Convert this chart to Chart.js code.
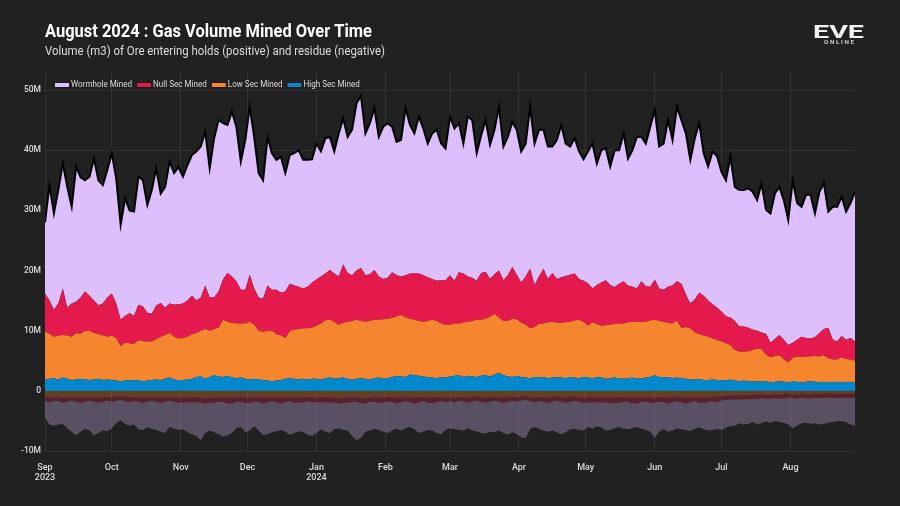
<!DOCTYPE html>
<html>
<head>
<meta charset="utf-8">
<title>Gas Volume Mined Over Time</title>
<script src="https://cdn.jsdelivr.net/npm/chart.js@4.4.1/dist/chart.umd.min.js"></script>
<style>
  html, body { margin: 0; padding: 0; background: #212121; }
  .chart-wrap { width: 900px; height: 506px; position: relative; }
</style>
</head>
<body>
<div class="chart-wrap"><canvas id="myChart"></canvas></div>
<script>
// DATA - millions of m3, one reading every 2 days starting 1 Sep 2023

var wormholeMined = [
  11.8, 19.2, 16.0, 18.9, 20.8, 20.1, 16.1, 22.5, 20.0, 18.5, 19.8, 23.6, 20.8, 19.7, 21.2, 23.3, 20.8, 15.8, 19.5, 17.1, 17.3, 21.3, 21.0, 17.9, 20.6, 22.8, 18.2, 20.1, 23.6, 21.9, 22.8,
  21.1, 22.5, 23.4, 24.8, 25.1, 25.6, 21.5, 26.5, 28.5, 26.0, 24.6, 27.4, 25.7, 21.3, 24.9, 27.9, 25.2, 20.7, 19.7, 24.7, 22.7, 21.6, 22.6, 19.7, 21.4, 22.0, 22.7, 21.4, 21.1, 20.5,
  22.6, 20.8, 22.5, 22.1, 20.3, 23.8, 24.3, 22.6, 24.2, 27.8, 28.6, 23.6, 25.1, 26.9, 23.2, 25.3, 25.7, 24.2, 22.2, 22.7, 27.8, 24.7, 23.3, 26.1, 24.4, 22.2, 24.2, 25.1, 22.7, 21.9,
  26.4, 25.3, 24.8, 21.6, 26.6, 26.2, 21.2, 22.9, 25.2, 22.3, 24.0, 27.2, 22.2, 23.0, 24.1, 24.1, 21.8, 22.1, 26.9, 23.5, 24.4, 23.1, 22.0, 21.0, 23.1, 25.3, 22.0, 21.3, 22.5, 21.2, 20.2,
  21.9, 24.1, 20.2, 22.0, 21.9, 19.7, 22.8, 22.2, 24.6, 21.1, 22.7, 25.2, 24.0, 23.7, 26.6, 28.2, 23.6, 24.3, 27.7, 24.2, 29.0, 27.2, 26.8, 23.9, 26.8, 28.2, 23.7, 22.3, 25.4, 25.2,
  23.2, 22.6, 26.7, 22.3, 22.7, 22.7, 23.2, 22.9, 21.7, 24.8, 20.6, 21.5, 24.2, 24.6, 23.2, 20.8, 27.0, 22.7, 21.6, 23.8, 23.9, 20.6, 23.5, 24.2, 19.3, 22.1, 22.4, 23.2, 21.3, 22.4, 24.9
];

var nullSecMined = [
  6.4, 5.5, 4.5, 5.3, 7.7, 4.6, 5.5, 5.2, 6.0, 6.5, 5.8, 5.4, 4.8, 5.3, 6.5, 7.0, 5.7, 4.4, 4.5, 5.0, 4.7, 5.9, 5.7, 4.8, 4.6, 5.6, 5.6, 4.5, 4.9, 5.3, 5.7,
  5.7, 6.0, 6.4, 5.4, 5.5, 7.2, 5.5, 5.2, 6.0, 6.7, 8.1, 7.7, 7.0, 5.6, 5.6, 7.8, 6.0, 5.5, 5.5, 7.5, 6.8, 7.4, 7.1, 7.7, 7.9, 7.3, 7.0, 6.6, 6.9, 7.5,
  7.7, 7.8, 7.8, 8.2, 8.1, 8.0, 9.7, 8.1, 7.6, 8.2, 8.8, 7.7, 7.8, 8.3, 7.2, 6.7, 6.8, 7.6, 6.8, 6.4, 7.0, 7.5, 7.7, 7.9, 7.7, 7.3, 6.8, 6.7, 7.2, 7.4,
  8.2, 7.1, 8.5, 8.1, 7.5, 7.2, 6.5, 7.8, 7.8, 6.3, 6.6, 7.8, 6.8, 7.6, 8.6, 7.4, 6.7, 8.0, 9.9, 7.0, 7.9, 9.1, 7.2, 8.1, 7.3, 7.6, 7.7, 7.8, 7.8, 6.8, 6.8,
  7.1, 5.6, 6.5, 7.2, 7.5, 6.6, 6.1, 6.6, 7.0, 6.1, 5.8, 5.5, 6.8, 5.9, 5.6, 6.7, 5.4, 5.3, 6.0, 6.3, 6.5, 7.4, 5.4, 4.1, 5.5, 6.9, 6.6, 6.0, 5.7, 5.3,
  5.0, 4.5, 4.6, 4.8, 4.2, 4.2, 3.9, 3.4, 3.0, 2.8, 3.5, 2.4, 2.8, 3.4, 3.3, 2.9, 2.5, 2.8, 3.4, 3.1, 3.0, 3.1, 3.9, 4.4, 5.1, 3.3, 3.0, 3.5, 3.2, 3.6, 3.2
];

var lowSecMined = [
  8.0, 7.5, 6.9, 7.3, 7.1, 7.2, 7.2, 7.7, 7.5, 8.1, 8.2, 7.7, 7.4, 7.4, 7.1, 7.4, 7.1, 5.8, 6.3, 6.1, 6.1, 6.6, 6.7, 6.5, 6.4, 6.7, 7.2, 7.3, 7.4, 7.1, 6.9,
  7.0, 7.1, 7.4, 7.3, 7.6, 8.3, 7.7, 7.7, 8.1, 9.5, 9.0, 9.1, 9.1, 9.0, 9.2, 9.6, 9.0, 8.1, 8.0, 8.3, 8.4, 7.7, 7.4, 6.8, 7.8, 8.2, 8.4, 8.4, 8.5, 8.5,
  8.8, 9.3, 9.6, 9.7, 9.4, 8.9, 9.1, 9.5, 9.7, 9.8, 9.5, 9.5, 9.7, 9.7, 9.6, 9.9, 9.9, 9.8, 9.9, 10.2, 9.9, 9.3, 9.2, 9.1, 9.1, 9.3, 9.6, 9.5, 8.9, 8.8,
  8.6, 8.7, 8.6, 9.1, 9.0, 9.2, 9.5, 9.3, 9.4, 9.9, 10.1, 9.2, 9.0, 9.2, 9.7, 9.4, 9.0, 8.8, 8.3, 8.3, 8.9, 8.9, 9.3, 9.3, 9.0, 9.1, 9.3, 9.2, 9.5, 9.7, 9.2,
  8.6, 9.3, 8.8, 8.6, 8.9, 8.9, 8.9, 9.1, 9.2, 9.3, 9.3, 9.5, 9.3, 9.3, 9.4, 9.2, 9.3, 9.3, 9.0, 9.1, 9.5, 8.3, 8.6, 8.5, 7.8, 7.4, 7.4, 7.2, 6.8, 6.7,
  6.4, 6.2, 5.7, 5.1, 4.9, 4.8, 5.0, 5.3, 5.4, 5.4, 4.4, 4.2, 4.3, 4.3, 3.7, 3.3, 3.9, 4.2, 4.2, 4.2, 4.1, 4.3, 4.3, 4.4, 4.0, 3.7, 3.8, 4.1, 3.9, 3.7, 3.6
];

var highSecMined = [
  1.8, 2.0, 2.1, 1.9, 2.2, 2.0, 1.8, 1.9, 2.0, 1.9, 1.8, 1.9, 2.0, 1.8, 1.9, 1.8, 1.7, 1.6, 1.7, 1.8, 1.7, 1.8, 1.6, 1.7, 1.8, 1.9, 1.8, 2.0, 2.2, 1.9, 1.8,
  1.8, 1.9, 2.0, 2.3, 2.4, 2.0, 2.3, 2.6, 2.4, 2.3, 2.5, 2.2, 2.1, 2.2, 2.0, 1.9, 2.0, 1.9, 1.8, 1.7, 1.6, 1.7, 1.8, 2.0, 2.1, 2.0, 1.9, 2.0, 1.9, 2.0,
  2.0, 1.9, 2.1, 2.2, 2.0, 2.1, 2.2, 2.0, 1.9, 2.0, 2.1, 2.0, 1.9, 2.1, 2.2, 2.0, 2.1, 2.3, 2.5, 2.4, 2.3, 2.7, 2.6, 2.5, 2.4, 2.3, 2.2, 2.1, 2.3, 2.2,
  2.4, 2.5, 2.6, 2.3, 2.5, 2.4, 2.3, 2.5, 2.6, 2.4, 2.7, 3.0, 2.6, 2.4, 2.3, 2.5, 2.3, 2.2, 2.1, 2.3, 2.2, 2.3, 2.1, 2.2, 2.3, 2.2, 2.1, 2.3, 2.2, 2.1, 2.3,
  2.2, 2.1, 2.3, 2.2, 2.0, 2.1, 2.2, 2.1, 2.0, 2.1, 2.2, 2.0, 2.1, 2.2, 2.3, 2.6, 2.3, 2.2, 2.3, 2.1, 2.2, 2.1, 2.0, 1.9, 1.9, 2.0, 1.8, 1.8, 1.9, 1.8,
  1.8, 1.7, 1.9, 1.7, 1.6, 1.7, 1.6, 1.5, 1.6, 1.5, 1.6, 1.4, 1.5, 1.6, 1.5, 1.4, 1.6, 1.5, 1.4, 1.5, 1.6, 1.5, 1.4, 1.5, 1.4, 1.5, 1.4, 1.5, 1.4, 1.5, 1.4
];

var lowSecResidue = [
  -1.0, -1.1, -1.1, -1.0, -1.2, -1.1, -1.0, -1.1, -1.2, -1.1, -1.0, -1.1, -1.2, -1.1, -1.0, -1.1, -1.0, -0.9, -1.0, -1.1, -1.0, -1.1, -1.2, -1.1, -1.0, -1.1, -1.2, -1.1, -1.0, -1.1, -1.2,
  -1.1, -1.2, -1.1, -1.0, -1.2, -1.3, -1.1, -1.2, -1.1, -1.0, -1.2, -1.3, -1.1, -1.0, -1.1, -1.2, -1.1, -1.0, -1.2, -1.1, -1.0, -1.1, -1.2, -1.1, -1.0, -1.2, -1.1, -1.1, -1.0, -1.1,
  -1.2, -1.1, -1.0, -1.2, -1.1, -1.3, -1.2, -1.1, -1.0, -1.1, -1.2, -1.3, -1.1, -1.0, -1.2, -1.1, -1.0, -1.1, -1.2, -1.0, -1.1, -1.2, -1.1, -1.0, -1.1, -1.2, -1.1, -1.0, -1.1, -1.2,
  -1.1, -1.2, -1.0, -1.1, -1.2, -1.0, -1.0, -1.1, -1.3, -1.0, -1.0, -1.1, -1.2, -1.0, -1.0, -1.1, -0.9, -1.0, -1.1, -1.2, -1.0, -1.1, -1.2, -1.0, -1.0, -1.1, -1.2, -1.0, -1.0, -1.1, -1.2,
  -1.0, -1.1, -1.2, -1.0, -1.1, -1.2, -1.1, -1.0, -1.1, -1.0, -1.2, -1.2, -1.0, -1.1, -1.1, -1.2, -1.0, -1.1, -1.2, -1.1, -1.0, -1.0, -1.2, -1.1, -1.0, -1.1, -1.2, -1.1, -1.0, -1.0,
  -0.9, -0.9, -0.8, -0.8, -0.8, -0.7, -0.8, -0.7, -0.7, -0.6, -0.7, -0.6, -0.6, -0.7, -0.6, -0.5, -0.6, -0.6, -0.5, -0.6, -0.6, -0.5, -0.6, -0.5, -0.5, -0.6, -0.5, -0.5, -0.6, -0.5, -0.5
];

var nullSecResidue = [
  -0.7, -0.8, -0.6, -0.7, -0.8, -0.7, -0.6, -0.7, -0.8, -0.7, -0.6, -0.7, -0.8, -0.7, -0.6, -0.7, -0.6, -0.6, -0.7, -0.8, -0.7, -0.7, -0.8, -0.7, -0.6, -0.7, -0.8, -0.7, -0.6, -0.7, -0.8,
  -0.8, -0.7, -0.8, -0.9, -0.7, -0.8, -0.9, -0.8, -0.7, -0.8, -0.9, -0.8, -0.7, -0.8, -0.9, -0.8, -0.7, -0.8, -0.9, -0.8, -0.7, -0.8, -0.9, -0.8, -0.7, -0.8, -0.9, -0.8, -0.7, -0.8,
  -0.7, -0.8, -0.9, -0.7, -0.8, -0.8, -0.8, -0.9, -0.8, -0.7, -0.9, -0.8, -0.7, -0.8, -0.8, -0.9, -0.8, -0.7, -0.9, -0.9, -0.6, -0.7, -1.0, -0.9, -0.6, -0.8, -0.9, -0.9, -0.6, -0.7,
  -0.6, -0.7, -0.7, -0.6, -0.8, -0.8, -0.6, -0.7, -0.7, -0.8, -0.6, -0.7, -0.8, -0.8, -0.6, -0.7, -0.7, -0.5, -0.6, -0.7, -0.7, -0.7, -0.8, -0.8, -0.6, -0.7, -0.8, -0.8, -0.6, -0.7, -0.8,
  -0.9, -0.8, -0.7, -0.9, -0.8, -0.9, -0.9, -1.0, -0.7, -0.8, -0.9, -0.9, -0.8, -0.7, -0.9, -0.8, -0.8, -0.7, -0.9, -0.8, -0.7, -0.9, -0.9, -0.8, -0.7, -0.9, -0.8, -0.8, -0.7, -0.9,
  -0.7, -0.6, -0.7, -0.6, -0.6, -0.7, -0.6, -0.6, -0.7, -0.6, -0.6, -0.7, -0.6, -0.6, -0.7, -0.6, -0.6, -0.7, -0.6, -0.6, -0.7, -0.6, -0.6, -0.7, -0.6, -0.6, -0.7, -0.6, -0.6, -0.7, -0.6
];

var wormholeResidue = [
  -2.8, -3.7, -4.1, -3.9, -3.5, -4.4, -5.2, -5.6, -4.8, -4.5, -5.0, -5.6, -5.0, -4.8, -5.1, -4.4, -3.8, -3.4, -3.8, -3.9, -3.9, -4.6, -4.5, -4.3, -4.7, -4.7, -4.8, -5.2, -4.4, -4.5, -4.5,
  -4.5, -5.0, -5.3, -5.6, -6.3, -4.9, -4.6, -4.9, -5.4, -5.8, -5.3, -4.9, -4.4, -4.2, -4.9, -4.6, -4.1, -4.8, -5.3, -5.3, -5.2, -4.8, -4.4, -4.9, -5.6, -5.0, -4.7, -5.0, -5.6, -5.6,
  -5.1, -4.5, -4.9, -5.1, -4.5, -4.1, -4.5, -4.6, -5.7, -6.4, -5.7, -4.7, -4.8, -4.5, -4.5, -4.8, -5.2, -4.8, -4.2, -4.7, -4.5, -4.1, -4.3, -5.1, -5.1, -4.5, -4.6, -5.1, -5.5, -4.6,
  -4.5, -4.5, -4.8, -4.9, -4.2, -4.8, -5.2, -5.2, -5.1, -5.0, -5.3, -4.8, -5.0, -5.5, -5.3, -5.4, -6.1, -6.4, -4.7, -4.1, -4.6, -4.8, -4.8, -4.8, -5.3, -5.4, -4.9, -4.6, -4.7, -4.7, -4.6,
  -4.1, -4.4, -4.0, -4.2, -4.7, -4.4, -4.2, -4.0, -4.5, -4.6, -4.1, -3.9, -4.5, -4.7, -4.8, -5.8, -5.0, -4.6, -4.7, -4.7, -4.5, -4.5, -4.4, -4.8, -4.6, -4.1, -4.4, -4.7, -4.8, -4.4,
  -4.9, -4.6, -4.4, -4.4, -4.0, -4.2, -4.1, -3.9, -4.2, -4.2, -3.8, -4.0, -3.8, -3.9, -4.0, -4.5, -5.0, -4.5, -4.3, -4.1, -4.2, -4.3, -4.4, -4.3, -4.2, -4.0, -3.8, -3.9, -4.0, -4.4, -4.7
];

// day of each reading, counted from 1 Sep 2023
var days = wormholeMined.map(function(v, i) { return i * 2; });

// x axis: first day of each month, with the year under Sep and Jan
var monthStarts = [0, 30, 61, 91, 122, 153, 182, 213, 243, 274, 304, 335];
var monthNames = ['Sep', 'Oct', 'Nov', 'Dec', 'Jan', 'Feb', 'Mar', 'Apr', 'May', 'Jun', 'Jul', 'Aug'];
var monthYears = ['2023', '', '', '', '2024', '', '', '', '', '', '', ''];


// PLUGINS

var background = {
  id: 'background',
  beforeDraw: function(chart) {
    var c = chart.ctx;
    c.save();
    c.fillStyle = '#212121';
    c.fillRect(0, 0, chart.width, chart.height);
    c.restore();
  }
};

// draws text squeezed to a given width (the original uses a narrow font)
function fitText(c, text, x, y, width) {
  var w = c.measureText(text).width;
  c.save();
  c.translate(x, y);
  c.scale(width / w, 1);
  c.fillText(text, 0, 0);
  c.restore();
}

var header = {
  id: 'header',
  afterDraw: function(chart) {
    var c = chart.ctx;
    c.save();
    c.textBaseline = 'alphabetic';
    c.textAlign = 'left';

    c.fillStyle = '#ffffff';
    c.font = 'bold 18px Roboto';
    fitText(c, 'August 2024 : Gas Volume Mined Over Time', 45, 37, 327);

    c.fillStyle = '#dddddd';
    c.font = '12px Roboto';
    fitText(c, 'Volume (m3) of Ore entering holds (positive) and residue (negative)', 45, 55, 340);

    // logo
    c.fillStyle = '#f2f2f2';
    c.font = 'bold 19px Roboto';
    fitText(c, 'EVE', 813, 37.5, 51);
    c.fillStyle = '#cccccc';
    c.font = 'bold 5px Roboto';
    fitText(c, 'O N L I N E', 824, 44, 30);

    // legend inside the plot, top left, wormhole first
    var items = chart.data.datasets.filter(function(ds) { return ds.inLegend; }).reverse();
    var x = 55, y = 85;
    c.font = '8.5px Roboto';
    c.textBaseline = 'middle';
    items.forEach(function(ds) {
      c.fillStyle = '#111111';
      c.fillRect(x - 0.5, y - 2.5, 15, 5);
      c.fillStyle = ds.backgroundColor;
      c.fillRect(x, y - 2, 14, 4);
      x += 16;
      var w = c.measureText(ds.label).width * 0.95;
      c.fillStyle = '#dddddd';
      fitText(c, ds.label, x, y, w);
      x += w + 5;
    });

    c.restore();
  }
};


// CHART

Chart.defaults.font.family = 'Roboto';

var ctx = document.getElementById('myChart').getContext('2d');

var chart = new Chart(ctx, {
  type: 'line',
  data: {
    labels: days,
    datasets: [{
      label: 'High Sec Mined',
      data: highSecMined,
      backgroundColor: '#0088cc',
      borderColor: 'rgba(0,0,0,0)',
      fill: 'origin',
      inLegend: true
    },
    {
      label: 'Low Sec Mined',
      data: lowSecMined,
      backgroundColor: '#f5852f',
      borderColor: 'rgba(0,0,0,0)',
      fill: '-1',
      inLegend: true
    },
    {
      label: 'Null Sec Mined',
      data: nullSecMined,
      backgroundColor: '#e31a4b',
      borderColor: 'rgba(0,0,0,0)',
      fill: '-1',
      inLegend: true
    },
    {
      label: 'Wormhole Mined',
      data: wormholeMined,
      backgroundColor: '#dcbffc',
      borderColor: '#000000',
      borderWidth: 2,
      fill: '-1',
      inLegend: true
    },
    {
      label: 'Low Sec Residue',
      data: lowSecResidue,
      backgroundColor: 'rgba(245,133,47,0.3)',
      borderColor: 'rgba(0,0,0,0)',
      fill: 'origin'
    },
    {
      label: 'Null Sec Residue',
      data: nullSecResidue,
      backgroundColor: 'rgba(227,26,75,0.3)',
      borderColor: 'rgba(0,0,0,0)',
      fill: '-1'
    },
    {
      label: 'Wormhole Residue',
      data: wormholeResidue,
      backgroundColor: 'rgba(220,191,252,0.3)',
      borderColor: 'rgba(0,0,0,0)',
      fill: '-1'
    }]
  },
  options: {
    responsive: true,
    maintainAspectRatio: false,
    animation: false,
    layout: { padding: { top: 72, right: 45, bottom: 0, left: 0 } },
    elements: {
      point: { radius: 0 },
      line: { tension: 0, borderWidth: 0 }
    },
    plugins: {
      legend: { display: false },
      tooltip: { enabled: false }
    },
    scales: {
      x: {
        type: 'linear',
        min: 0,
        max: 364,
        grid: { color: 'rgba(255,255,255,0.07)', drawTicks: false },
        border: { display: false },
        afterBuildTicks: function(axis) {
          axis.ticks = monthStarts.map(function(d) { return { value: d }; });
        },
        afterFit: function(axis) { axis.height = 55; },
        ticks: {
          color: '#dddddd',
          font: { size: 9, weight: '500' },
          padding: 11,
          maxRotation: 0,
          autoSkip: false,
          callback: function(value) {
            var k = monthStarts.indexOf(value);
            return monthYears[k] ? [monthNames[k], monthYears[k]] : monthNames[k];
          }
        }
      },
      y: {
        stacked: true,
        min: -10,
        max: 53,
        grid: { color: 'rgba(255,255,255,0.07)', drawTicks: false },
        border: { display: false },
        afterBuildTicks: function(axis) {
          axis.ticks = axis.ticks.filter(function(t) { return t.value % 10 === 0; });
        },
        afterFit: function(axis) { axis.width = 45; },
        ticks: {
          stepSize: 10,
          color: '#dddddd',
          font: { size: 8.5, weight: '500' },
          padding: 4,
          callback: function(value) { return value === 0 ? '0' : value + 'M'; }
        }
      }
    }
  },
  plugins: [background, header]
});
</script>
</body>
</html>
